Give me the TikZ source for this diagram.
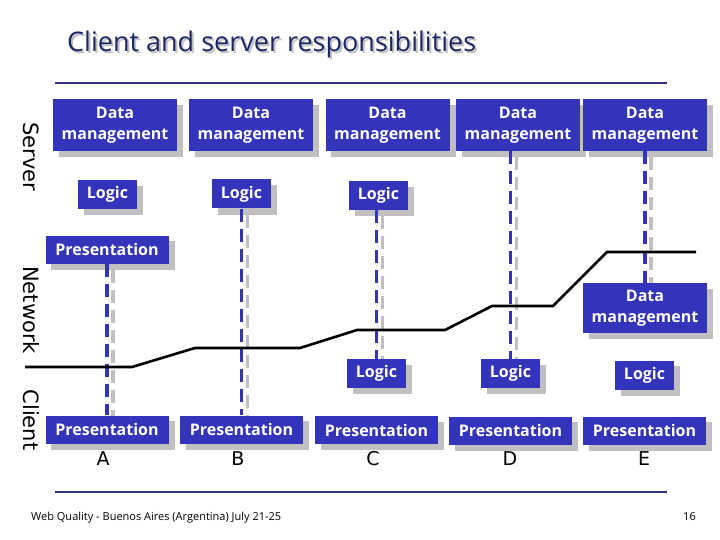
\documentclass[tikz,border=0pt]{standalone}
\usepackage{fontspec}
\setmainfont{Open Sans}
\newfontfamily\boxfont{Open Sans}
\newfontfamily\labfont{DejaVu Sans}
\definecolor{boxblue}{RGB}{52,52,186}
\definecolor{shgray}{RGB}{192,192,192}
\definecolor{navy}{RGB}{28,40,100}
\definecolor{rulecol}{RGB}{50,50,120}
\pgfdeclarelayer{back}
\pgfdeclarelayer{bg}
\pgfdeclarelayer{mid}
\pgfsetlayers{back,bg,mid,main}
\begin{document}
\begin{tikzpicture}[x=1pt,y=-1pt,
  blk/.style={fill=boxblue,text=white,font=\boxfont\bfseries\fontsize{16}{21}\selectfont,inner sep=0pt,align=center},
  dmbox/.style={blk,minimum width=124pt,minimum height=52pt},
  logbox/.style={blk,minimum width=59pt,minimum height=29pt},
  presbox/.style={blk,minimum width=123pt,minimum height=28pt},
  side/.style={font=\labfont\fontsize{21}{21}\selectfont,rotate=-90,inner sep=0pt},
  letter/.style={font=\labfont\fontsize{19}{19}\selectfont,inner sep=0pt},
  dline/.style={boxblue,line width=3.5pt,dash pattern=on 13pt off 7pt},
  dshadow/.style={shgray,line width=3.5pt,dash pattern=on 13pt off 7pt},
  rule/.style={rulecol,line width=1.2pt}
]
\begin{pgfonlayer}{back}
\fill[white] (0,0) rectangle (720,540);
\end{pgfonlayer}
\useasboundingbox (0,0) rectangle (720,540);

% title
\node[anchor=base west,font=\fontsize{27}{27}\selectfont,text=shgray,inner sep=0pt] (titlesh) at (69,54) {Client and server responsibilities};
\node[anchor=base west,font=\fontsize{27}{27}\selectfont,text=navy,inner sep=0pt] (title) at (67,52) {Client and server responsibilities};

% rules
\coordinate (r1a) at (55,83); \coordinate (r1b) at (667,83);
\coordinate (r2a) at (55,492); \coordinate (r2b) at (667,492);
\draw[rule] (r1a) -- (r1b);
\draw[rule] (r2a) -- (r2b);

% side labels
\node[side] (lserver) at (31,157) {Server};
\node[side] (lnetwork) at (31,310) {Network};
\node[side] (lclient) at (31,420) {Client};

% server row
\node[dmbox] (sDA) at (115,125) {Data\\management};
\node[dmbox] (sDB) at (251,125) {Data\\management};
\node[dmbox] (sDC) at (387.5,125) {Data\\management};
\node[dmbox] (sDD) at (518,125) {Data\\management};
\node[dmbox] (sDE) at (645,125) {Data\\management};
\node[logbox] (sLA) at (107.5,194.5) {Logic};
\node[logbox] (sLB) at (241.5,194) {Logic};
\node[logbox] (sLC) at (378.5,195.5) {Logic};
\node[presbox] (sPA) at (107,249.5) {Presentation};

% client side
\node[dmbox,minimum height=50pt] (cDE) at (645,308) {Data\\management};
\node[logbox] (cLC) at (376.5,373.5) {Logic};
\node[logbox] (cLD) at (510.5,373.5) {Logic};
\node[logbox] (cLE) at (644.5,375) {Logic};
\node[presbox] (cPA) at (107,429.5) {Presentation};
\node[presbox] (cPB) at (241.5,429.5) {Presentation};
\node[presbox] (cPC) at (376.5,430) {Presentation};
\node[presbox] (cPD) at (510.5,430.5) {Presentation};
\node[presbox] (cPE) at (644.5,430.5) {Presentation};

% letters
\node[letter,anchor=base] (tA) at (103,465) {A};
\node[letter,anchor=base] (tB) at (238,465) {B};
\node[letter,anchor=base] (tC) at (373,465) {C};
\node[letter,anchor=base] (tD) at (510,465) {D};
\node[letter,anchor=base] (tE) at (644,465) {E};

% box shadows
\begin{pgfonlayer}{bg}
\foreach \n in {sDA,sDB,sDC,sDD,sDE,sLA,sLB,sLC,sPA,cDE,cLC,cLD,cLE,cPA,cPB,cPC,cPD,cPE}{
  \fill[shgray] ([xshift=6pt,yshift=-6pt]\n.south west) rectangle ([xshift=6pt,yshift=-6pt]\n.north east);
}
\end{pgfonlayer}

% connectors
\begin{pgfonlayer}{mid}
\draw[dshadow] ([xshift=6pt,yshift=-6pt]sPA.south) -- ([xshift=6pt,yshift=-6pt]cPA.north);
\draw[dshadow] ([xshift=6pt,yshift=-6pt]sLB.south) -- ([xshift=6pt,yshift=-6pt]cPB.north);
\draw[dshadow] ([xshift=6pt,yshift=-6pt]cLC.north |- sLC.south) -- ([xshift=6pt,yshift=-6pt]cLC.north);
\draw[dshadow] ([xshift=6pt,yshift=-6pt]cLD.north |- sDD.south) -- ([xshift=6pt,yshift=-6pt]cLD.north);
\draw[dshadow] ([xshift=6pt,yshift=-6pt]sDE.south) -- ([xshift=6pt,yshift=-6pt]cDE.north);
\draw[dline] (sPA.south) -- (cPA.north);
\draw[dline] (sLB.south) -- (cPB.north);
\draw[dline] (cLC.north |- sLC.south) -- (cLC.north);
\draw[dline] (cLD.north |- sDD.south) -- (cLD.north);
\draw[dline] (sDE.south) -- (cDE.north);
% network line
\draw[black,line width=2.6pt,line join=miter] (25,367) -- (132,367) -- (195,348) -- (300,348) -- (357,330) -- (445,330) -- (492,306) -- (553,306) -- (607,252) -- (696,252);
\end{pgfonlayer}

% footer
\node[anchor=base west,font=\fontsize{11}{11}\selectfont,inner sep=0pt] (foot) at (31,520) {Web Quality - Buenos Aires (Argentina) July 21-25};
\node[anchor=base east,font=\fontsize{11}{11}\selectfont,inner sep=0pt] (page) at (696,520) {16};
\end{tikzpicture}
\end{document}
